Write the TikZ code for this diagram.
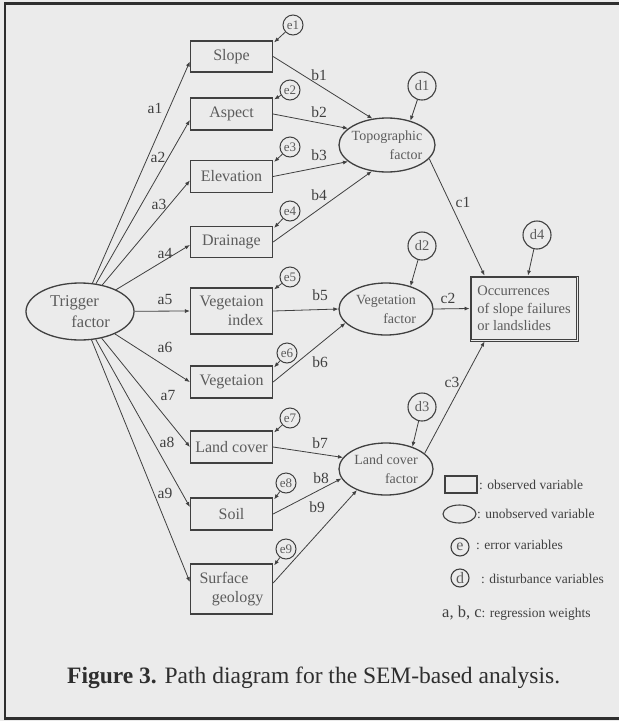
\documentclass[tikz,border=0pt]{standalone}
\usepackage{fontspec}
\setmainfont{Liberation Serif}
\usetikzlibrary{shapes.geometric,arrows.meta,calc}

\definecolor{paper}{HTML}{EBEBEB}
\definecolor{ink}{HTML}{404040}
\definecolor{soft}{HTML}{5C5C5C}
\definecolor{framec}{HTML}{2E2E2E}

\begin{document}
\begin{tikzpicture}[x=1pt,y=-1pt,
  obs/.style={draw=ink, line width=1.3pt, rectangle, minimum width=82pt,
    minimum height=31pt, inner sep=1pt, text=soft,
    font=\fontsize{16}{18.5}\selectfont, align=right},
  lat/.style={draw=ink, line width=1.3pt, ellipse, inner sep=0pt},
  lattext/.style={align=right, text=soft, inner sep=0pt,
    font=\fontsize{14}{19}\selectfont},
  errc/.style={draw=ink, line width=1pt, circle, minimum size=20pt,
    inner sep=0pt, text=soft, font=\fontsize{13}{13}\selectfont},
  dist/.style={draw=ink, line width=1.1pt, circle, minimum size=28pt,
    inner sep=0pt, text=soft, font=\fontsize{14.5}{14.5}\selectfont},
  link/.style={draw=ink, line width=0.8pt, -{Latex[length=5pt,width=4pt]}},
  wt/.style={text=ink, inner sep=0pt, font=\fontsize{15.5}{15.5}\selectfont},
  legtext/.style={text=ink, inner sep=0pt, anchor=west,
    font=\fontsize{13.5}{13.5}\selectfont},
]
% paper and frame
\fill[paper] (0,0) rectangle (619,721);
\useasboundingbox (0,0) rectangle (619,721);
\draw[framec, line width=2.5pt] (5,3.5) rectangle (640,718.5);

% trigger factor
\node[lat, minimum width=108pt, minimum height=57pt,
  label={[lattext, font=\fontsize{16.5}{21}\selectfont]center:{Trigger\hspace*{11pt}\\factor}}]
  (trig) at (80,311.5) {};

% observed variables
\node[obs] (slope)  at (231.5,56.5) {Slope};
\node[obs, minimum height=32pt] (aspect) at (231.5,114) {Aspect};
\node[obs, minimum height=32pt] (elev)   at (231.5,176.5) {Elevation};
\node[obs] (drain)  at (231.5,242) {Drainage};
\node[obs, minimum height=46pt] (vegidx) at (231.5,311) {Vegetaion\\index};
\node[obs, minimum height=32pt] (veg)    at (231.5,382) {Vegetaion};
\node[obs, minimum height=32pt] (lcov)   at (231.5,447) {Land cover};
\node[obs, minimum height=32pt] (soil)   at (231.5,514) {Soil};
\node[obs, minimum height=50pt] (surf)   at (231.5,589) {Surface\hspace*{15pt}\\geology};

% error variables
\node[errc] (e1) at (293,25)  {e1};
\node[errc] (e2) at (290,90)  {e2};
\node[errc] (e3) at (290,147) {e3};
\node[errc] (e4) at (290,211) {e4};
\node[errc] (e5) at (290,277) {e5};
\node[errc] (e6) at (287,353) {e6};
\node[errc] (e7) at (290,418) {e7};
\node[errc] (e8) at (286,483) {e8};
\node[errc] (e9) at (286,549) {e9};

% latent factors
\node[lat, minimum width=96pt, minimum height=54pt,
  label={[lattext]center:{Topographic\\factor}}] (topo) at (387,145) {};
\node[lat, minimum width=94pt, minimum height=52pt,
  label={[lattext]center:{Vegetation\\factor}}] (vegf) at (386,309) {};
\node[lat, minimum width=94pt, minimum height=52pt,
  label={[lattext]center:{Land cover\\factor}}] (lcf) at (386,469) {};

% disturbances
\node[dist] (d1) at (422,86)  {d1};
\node[dist] (d2) at (422,246) {d2};
\node[dist] (d3) at (422,407) {d3};
\node[dist] (d4) at (537,235) {d4};

% outcome, framed by a double rule
\node[draw=ink, line width=0.9pt, rectangle,
  minimum width=108pt, minimum height=65pt, align=left, text=soft,
  font=\fontsize{14.5}{17.5}\selectfont]
  (occ) at (524,308.5) {Occurrences\\of slope failures\\or landslides};
\draw[ink, line width=0.7pt] ($(occ.north west)+(2.2,2.2)$) rectangle ($(occ.south east)+(-2.2,-2.2)$);

% trigger factor to observed variables
\draw[link] (trig) -- ($(slope.west)+(0,5)$);
\draw[link] (trig) -- ($(aspect.west)+(0,6)$);
\draw[link] (trig) -- ($(elev.west)+(0,4)$);
\draw[link] (trig) -- ($(drain.west)+(0,3)$);
\draw[link] (trig) -- (vegidx.west);
\draw[link] (trig) -- (veg.west);
\draw[link] (trig) -- (lcov.west);
\draw[link] (trig) -- ($(soil.west)+(0,-7)$);
\draw[link] (trig) -- ($(surf.west)+(0,-7)$);

% errors to observed variables
\foreach \e/\b in {e1/slope,e2/aspect,e3/elev,e4/drain,e5/vegidx,e6/veg,e7/lcov,e8/soil,e9/surf}
  \draw[link] (\e) -- ($(\b.north east)+(1,2)$);

% observed variables to factors
\draw[link] (slope.east) -- (topo.119);
\draw[link] (aspect.east) -- (topo.157);
\draw[link] (elev.east) -- (topo.203);
\draw[link] (drain.east) -- (topo.240);
\draw[link] (vegidx.east) -- (vegf.west);
\draw[link] (veg.east) -- (vegf.199);
\draw[link] (lcov.east) -- (lcf.165);
\draw[link] (soil.east) -- (lcf.192);
\draw[link] ($(surf.east)+(0,-6)$) -- (lcf.216);

% disturbances to factors and outcome
\draw[link] (d1) -- (topo.46);
\draw[link] (d2) -- (vegf.43);
\draw[link] (d3) -- (lcf.40);
\draw[link] (d4) -- ($(occ.north)+(4,0)$);

% factors to outcome
\draw[link] (topo.342) -- ($(occ.north west)+(15,0)$);
\draw[link] (vegf.east) -- (occ.west);
\draw[link] (lcf.22) -- ($(occ.south west)+(15,0)$);

% regression weights
\node[wt] (la1) at (155,108) {a1};
\node[wt] (la2) at (158,157) {a2};
\node[wt] (la3) at (159,204) {a3};
\node[wt] (la4) at (165,253) {a4};
\node[wt] (la5) at (165,299) {a5};
\node[wt] (la6) at (165,347) {a6};
\node[wt] (la7) at (168,395) {a7};
\node[wt] (la8) at (167,442) {a8};
\node[wt] (la9) at (165,493) {a9};
\node[wt] (lb1) at (319,75)  {b1};
\node[wt] (lb2) at (319,112) {b2};
\node[wt] (lb3) at (319,155) {b3};
\node[wt] (lb4) at (319,195) {b4};
\node[wt] (lb5) at (320,295) {b5};
\node[wt] (lb6) at (320,362) {b6};
\node[wt] (lb7) at (320,443) {b7};
\node[wt] (lb8) at (321,478) {b8};
\node[wt] (lb9) at (317,507) {b9};
\node[wt] (lc1) at (463,202) {c1};
\node[wt] (lc2) at (448,298) {c2};
\node[wt] (lc3) at (452,382) {c3};

% legend
\node[obs, minimum width=32pt, minimum height=17pt, line width=1.1pt] (lgobs) at (461,484.5) {};
\node[lat, minimum width=33pt, minimum height=18pt, line width=1.1pt] (lglat) at (459.5,514) {};
\node[errc, minimum size=18pt, line width=1.1pt, font=\fontsize{16}{16}\selectfont] (lge) at (460,547) {e};
\node[errc, minimum size=18pt, line width=1.1pt, font=\fontsize{16}{16}\selectfont] (lgd) at (460,578) {d};
\node[legtext] (tobs) at (479,485) {: observed variable};
\node[legtext] (tlat) at (477,514) {: unobserved variable};
\node[legtext] (terr) at (476,545) {: error variables};
\node[legtext] (tdis) at (481,579) {: disturbance variables};
\node[legtext] (treg) at (442,613) {{\fontsize{16.5}{16.5}\selectfont a, b, c}: regression weights};

% caption
\node[anchor=west, inner sep=0pt, text=framec, font=\fontsize{23.5}{26}\selectfont]
  (cap) at (67,678) {\textbf{Figure 3.} Path diagram for the SEM-based analysis.};
\end{tikzpicture}
\end{document}
